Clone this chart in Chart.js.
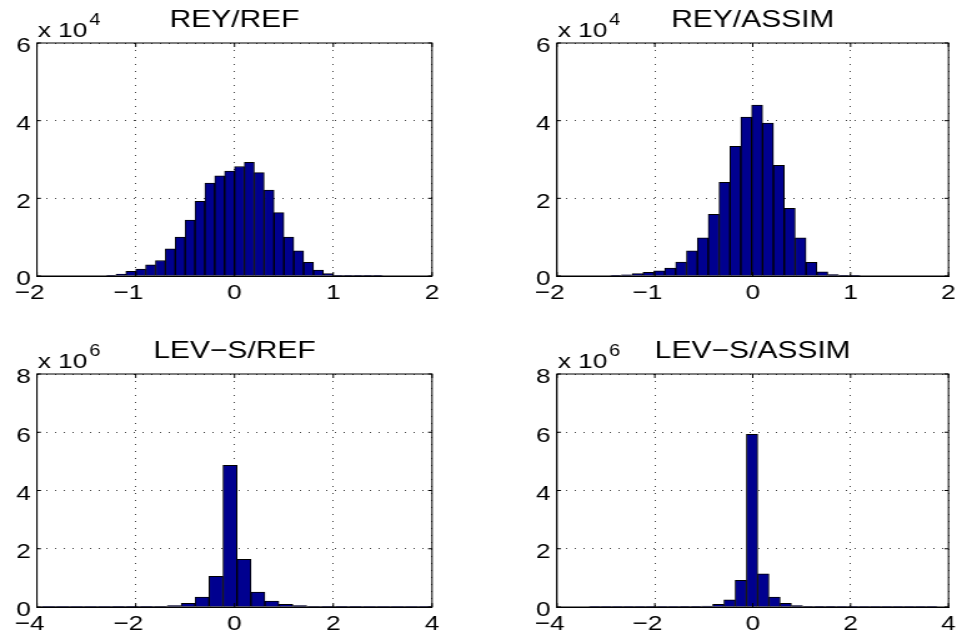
<!DOCTYPE html>
<html>
<head>
<meta charset="utf-8">
<script src="https://cdn.jsdelivr.net/npm/chart.js@4/dist/chart.umd.min.js"></script>
<style>
  html, body { margin: 0; padding: 0; background: #fff; }
  #wrap { position: relative; width: 962px; height: 641px; overflow: hidden; }
  canvas { position: absolute; }
</style>
</head>
<body>
<div id="wrap">
  <canvas id="reyRef" width="385" height="320" style="left:0px;top:0px;width:481px;height:320px;"></canvas>
  <canvas id="reyAssim" width="385" height="320" style="left:481px;top:0px;width:481px;height:320px;"></canvas>
  <canvas id="levRef" width="385" height="321" style="left:0px;top:320px;width:481px;height:321px;"></canvas>
  <canvas id="levAssim" width="385" height="321" style="left:481px;top:320px;width:481px;height:321px;"></canvas>
</div>
<script>
// bin centres and counts
const reyRefBins = [-1.25, -1.15, -1.05, -0.95, -0.85, -0.75, -0.65, -0.55, -0.45, -0.35, -0.25, -0.15, -0.05,
  0.05, 0.15, 0.25, 0.35, 0.45, 0.55, 0.65, 0.75, 0.85, 0.95, 1.05, 1.15, 1.25, 1.35, 1.45];
const reyRefCounts = [200, 500, 1200, 1800, 2900, 4000, 7000, 10000, 14400, 19200, 23900, 25800, 27000,
  28200, 29300, 26600, 22100, 16300, 10000, 6500, 3500, 1550, 600, 200, 100, 80, 50, 30];

const reyAssimBins = [-1.398, -1.287, -1.176, -1.065, -0.954, -0.843, -0.732, -0.621, -0.510, -0.399, -0.288, -0.177, -0.066,
  0.045, 0.156, 0.267, 0.378, 0.489, 0.600, 0.711, 0.822, 0.933, 1.044];
const reyAssimCounts = [200, 300, 600, 950, 1300, 2050, 3600, 6500, 9800, 15900, 24100, 33400, 40900,
  44000, 39400, 28500, 17400, 9800, 3500, 1100, 350, 200, 100];

const levRefBins = [-3.7635, -3.481, -3.1985, -2.916, -2.6335, -2.351, -2.0685, -1.786, -1.5035, -1.221, -0.9385, -0.656, -0.3735,
  -0.091, 0.1915, 0.474, 0.7565, 1.039, 1.3215, 1.604, 1.8865, 2.169, 2.4515, 2.734, 3.0165, 3.299, 3.5815, 3.864];
const levRefCounts = [3000, 2000, 2000, 3000, 3000, 4000, 5000, 8000, 15000, 50000, 126000, 340000, 1050000,
  4860000, 1640000, 515000, 206000, 90000, 46000, 20000, 10000, 6000, 4000, 3000, 2000, 2000, 1000, 1000];

const levAssimBins = [-3.2265, -2.997, -2.7675, -2.538, -2.3085, -2.079, -1.8495, -1.62, -1.3905, -1.161, -0.9315, -0.702, -0.4725, -0.243,
  -0.0135, 0.216, 0.4455, 0.675, 0.9045, 1.134, 1.3635, 1.593, 1.8225, 2.052, 2.2815, 2.511, 2.7405, 2.97, 3.1995, 3.429, 3.6585];
const levAssimCounts = [1000, 1000, 1000, 1000, 1500, 2000, 2500, 3000, 5000, 12000, 34000, 90000, 250000, 915000,
  5930000, 1140000, 340000, 126000, 46000, 15000, 8000, 5000, 3000, 2000, 2000, 1500, 1000, 1000, 1000, 1000, 1000];

const titles = ['REY/REF', 'REY/ASSIM', 'LEV\u2212S/REF', 'LEV\u2212S/ASSIM'];
const reyXTicks = [-2, 2, 1];   // min, max, step
const levXTicks = [-4, 4, 2];
const reyYTicks = [0, 60000, 20000];
const levYTicks = [0, 8000000, 2000000];

const FONT = '"Liberation Sans", Arial, Helvetica, sans-serif';

// box, inward ticks, title and the "x 10^n" multiplier, matlab style
const matlabAxes = {
  id: 'matlabAxes',
  afterDraw(chart, args, opts) {
    const { ctx, chartArea: a, scales } = chart;
    ctx.save();
    ctx.strokeStyle = '#000';
    ctx.lineWidth = 1;
    ctx.strokeRect(a.left, a.top, a.right - a.left, a.bottom - a.top);
    ctx.beginPath();
    scales.x.ticks.forEach(t => {
      const px = scales.x.getPixelForValue(t.value);
      ctx.moveTo(px, a.bottom); ctx.lineTo(px, a.bottom - 4);
      ctx.moveTo(px, a.top); ctx.lineTo(px, a.top + 4);
    });
    scales.y.ticks.forEach(t => {
      const py = scales.y.getPixelForValue(t.value);
      ctx.moveTo(a.left, py); ctx.lineTo(a.left + 3.2, py);
      ctx.moveTo(a.right, py); ctx.lineTo(a.right - 3.2, py);
    });
    ctx.stroke();

    ctx.fillStyle = '#000';
    ctx.textBaseline = 'alphabetic';
    ctx.textAlign = 'center';
    ctx.font = '24px ' + FONT;
    ctx.fillText(opts.title, (a.left + a.right) / 2, a.top - 16.5);

    ctx.textAlign = 'left';
    ctx.font = '21px ' + FONT;
    const base = 'x 10';
    const bx = a.left + 0.6;
    ctx.fillText(base, bx, a.top - 6);
    const w = ctx.measureText(base).width;
    ctx.font = '16px ' + FONT;
    ctx.fillText(opts.exponent, bx + w + 1.5, a.top - 18);
    ctx.restore();
  }
};

function fmtX(value) {
  if (value < 0) return '\u2212' + Math.abs(value) + '\u2007';
  return String(value);
}

function histChart(id, bins, counts, cfg) {
  const tickFont = { family: FONT, size: 21 };
  const grid = { color: 'rgba(0,0,0,0.75)', lineWidth: 1, drawTicks: false, offset: false };
  const border = { color: '#000', width: 1, dash: [1, 6] };
  new Chart(document.getElementById(id), {
    type: 'bar',
    data: {
      datasets: [{
        data: bins.map((b, i) => ({ x: b, y: counts[i] })),
        backgroundColor: '#00008f',
        borderColor: '#000',
        borderWidth: 1,
        barPercentage: 1,
        categoryPercentage: 1
      }]
    },
    options: {
      responsive: false,
      devicePixelRatio: 1,
      animation: false,
      layout: { padding: { top: cfg.top, right: cfg.right, left: 0, bottom: 0 } },
      scales: {
        x: {
          type: 'linear',
          min: cfg.xTicks[0], max: cfg.xTicks[1], offset: false,
          ticks: { stepSize: cfg.xTicks[2], autoSkip: false, maxRotation: 0, padding: 5, color: '#000', font: tickFont, callback: fmtX },
          grid: grid,
          border: border,
          afterFit: s => { s.height = cfg.xh; }
        },
        y: {
          min: cfg.yTicks[0], max: cfg.yTicks[1],
          ticks: { stepSize: cfg.yTicks[2], padding: 5, labelOffset: 3.5, color: '#000', font: tickFont,
                   callback: v => String(Math.round(v / cfg.yScale)) },
          grid: grid,
          border: border,
          afterFit: s => { s.width = cfg.yw; }
        }
      },
      plugins: {
        legend: { display: false },
        tooltip: { enabled: false },
        matlabAxes: { title: cfg.title, exponent: cfg.exp }
      }
    },
    plugins: [matlabAxes]
  });
}

// 481 css px shown from 385 canvas px: the original figure is stretched sideways
histChart('reyRef', reyRefBins, reyRefCounts,
  { title: titles[0], exp: '4', xTicks: reyXTicks, yTicks: reyYTicks, yScale: 1e4, top: 43, right: 39.2, yw: 29.6, xh: 44 });
histChart('reyAssim', reyAssimBins, reyAssimCounts,
  { title: titles[1], exp: '4', xTicks: reyXTicks, yTicks: reyYTicks, yScale: 1e4, top: 43, right: 8, yw: 60.8, xh: 44 });
histChart('levRef', levRefBins, levRefCounts,
  { title: titles[2], exp: '6', xTicks: levXTicks, yTicks: levYTicks, yScale: 1e6, top: 54, right: 39.2, yw: 29.6, xh: 34 });
histChart('levAssim', levAssimBins, levAssimCounts,
  { title: titles[3], exp: '6', xTicks: levXTicks, yTicks: levYTicks, yScale: 1e6, top: 54, right: 8, yw: 60.8, xh: 34 });
</script>
</body>
</html>
